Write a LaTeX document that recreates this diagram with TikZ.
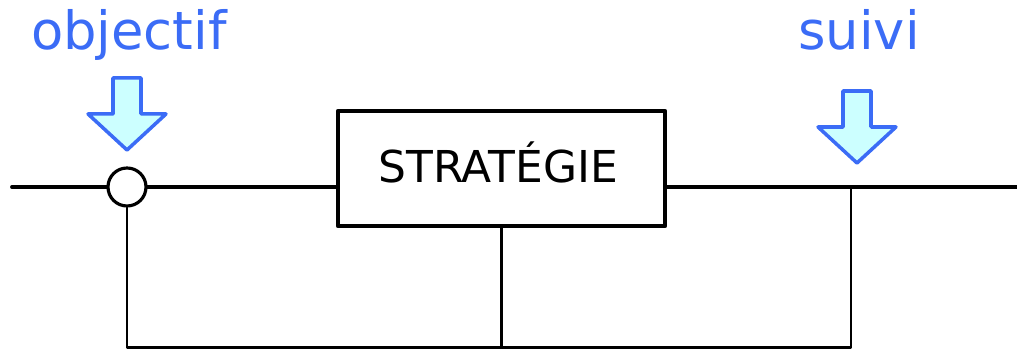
\documentclass[tikz,border=0pt]{standalone}
\usepackage{fontspec}
\setmainfont{DejaVu Sans}
\usetikzlibrary{positioning}
\definecolor{penblue}{RGB}{59,108,246}
\definecolor{paleblue}{RGB}{204,255,255}
\begin{document}
\begin{tikzpicture}[line cap=round, line join=round, font=\fontsize{30}{34}\selectfont]
	\tikzset{bloc/.style={draw, line width=2.4pt, minimum width=6.54cm, minimum height=2.3cm, inner sep=0pt},
		comparateur/.style={draw, circle, line width=1.8pt, minimum size=0.76cm, inner sep=0pt, fill=white},
		retour/.style={line width=1.4pt},
		titre/.style={text=penblue, anchor=base},
		fleche/.style={draw=penblue, fill=paleblue, line width=2pt},
		pics/descente/.style={code={
			\draw[fleche] (-0.28,1.44)--(0.28,1.44)--(0.28,0.72)--(0.78,0.72)--(0,0)--(-0.78,0.72)--(-0.28,0.72)--cycle;}}}
	\useasboundingbox (0,0) rectangle (20.34,7.02);
	\coordinate (entree) at (0.24,3.28);
	\coordinate (sortie) at (20.34,3.28);
	\coordinate (mesure) at (17.02,3.28);
	\coordinate (bas) at (0,0.07);
	\node[comparateur] (ecart) at (2.54,3.28) {};
	\node[bloc] (strategie) at (10.03,3.65) {};
	\node[font=\fontsize{25}{28}\selectfont] (nom) at (9.96,3.78) {STRATÉGIE};
	\draw[line width=2.2pt] (entree)--(ecart.west) (ecart.east)--(strategie.west |- entree) (strategie.east |- sortie)--(sortie);
	\draw[retour] (ecart.south)--(ecart.south |- bas) -| (strategie.south);
	\draw[retour] (strategie.south)--(strategie.south |- bas) -| (mesure);
	\pic (flecheA) at (2.54,4.02) {descente};
	\pic (flecheB) at (17.14,3.76) {descente};
	\node[titre] (objectif) at (2.58,6.02) {objectif};
	\node[titre] (suivi) at (17.18,6.02) {suivi};
\end{tikzpicture}
\end{document}
